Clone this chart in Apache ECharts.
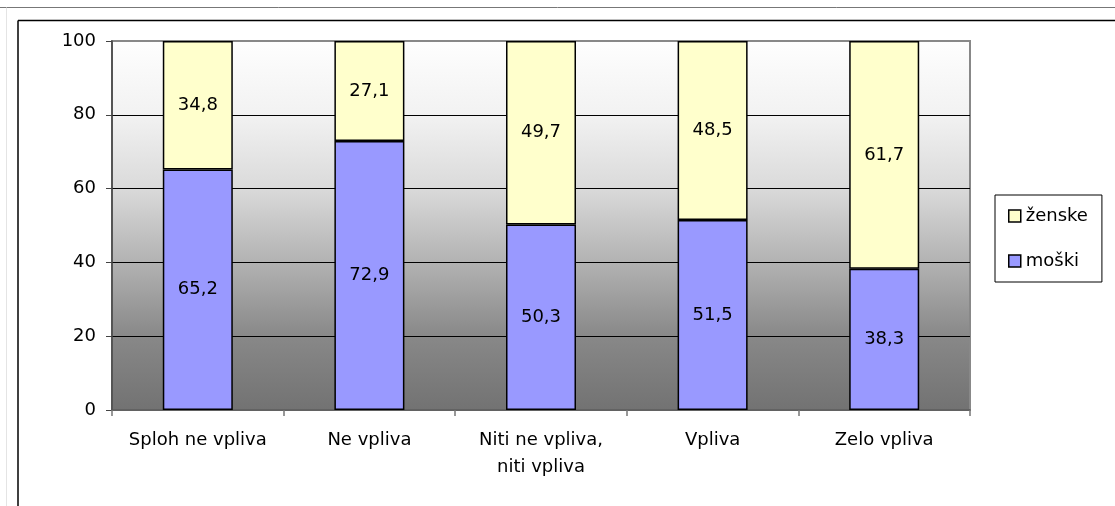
<!DOCTYPE html>
<html>
<head>
<meta charset="utf-8">
<script src="https://cdn.jsdelivr.net/npm/echarts@6/dist/echarts.min.js"></script>
<style>
  html, body { margin: 0; padding: 0; background: #fff; }
  #chart { width: 1115px; height: 506px; }
</style>
</head>
<body>
<div id="chart"></div>
<script>
const categories = ['Sploh ne vpliva', 'Ne vpliva', 'Niti ne vpliva,\nniti vpliva', 'Vpliva', 'Zelo vpliva']
const moski = [65.2, 72.9, 50.3, 51.5, 38.3]
const zenske = [34.8, 27.1, 49.7, 48.5, 61.7]
const yTicks = [0, 20, 40, 60, 80, 100]

const font = 'DejaVu Sans, Verdana, sans-serif'
const chart = echarts.init(document.getElementById('chart'), null, { renderer: 'canvas' })

const fmt = p => String(p.value).replace('.', ',')

chart.setOption({
  animation: false,
  textStyle: { fontFamily: font },
  graphic: [
    { type: 'line', shape: { x1: 0, y1: 7.5, x2: 1115, y2: 7.5 }, style: { stroke: '#777', lineWidth: 1 } },
    { type: 'line', shape: { x1: 6.5, y1: 7.5, x2: 6.5, y2: 506 }, style: { stroke: '#e4e4e4', lineWidth: 1 } },
    { type: 'line', shape: { x1: 18, y1: 20.5, x2: 1115, y2: 20.5 }, style: { stroke: '#000', lineWidth: 1.5 } },
    { type: 'line', shape: { x1: 18, y1: 20.5, x2: 18, y2: 506 }, style: { stroke: '#000', lineWidth: 1.5 } }
  ],
  grid: {
    left: 112,
    right: 145,
    top: 41,
    bottom: 96,
    show: true,
    borderColor: '#888',
    borderWidth: 2,
    backgroundColor: {
      type: 'linear', x: 0, y: 0, x2: 0, y2: 1,
      colorStops: [
        { offset: 0, color: '#fefefe' },
        { offset: 0.2, color: '#f2f2f2' },
        { offset: 0.4, color: '#dadada' },
        { offset: 0.6, color: '#b2b2b2' },
        { offset: 0.8, color: '#888888' },
        { offset: 1, color: '#727272' }
      ]
    }
  },
  legend: {
    data: ['ženske', 'moški'],
    orient: 'vertical',
    left: 995,
    top: 195,
    padding: [12, 14, 12, 13],
    itemGap: 27,
    itemWidth: 12,
    itemHeight: 12,
    borderColor: '#000',
    borderWidth: 1,
    icon: 'rect',
    itemStyle: { borderColor: '#000', borderWidth: 1.5 },
    textStyle: { fontSize: 18, color: '#000', fontFamily: font }
  },
  xAxis: {
    type: 'category',
    data: categories,
    axisLine: { lineStyle: { color: '#555', width: 1.5 } },
    axisTick: { show: true, length: 6, lineStyle: { color: '#777', width: 1.5 } },
    axisLabel: { fontSize: 18, color: '#000', margin: 17, lineHeight: 27, interval: 0 }
  },
  yAxis: {
    type: 'value',
    min: 0,
    max: 100,
    interval: 20,
    axisLine: { show: true, lineStyle: { color: '#444', width: 1.5 } },
    axisTick: { show: true, length: 6, lineStyle: { color: '#444' } },
    axisLabel: {
      fontSize: 18, color: '#000', margin: 16,
      formatter: v => yTicks.includes(v) ? String(v) : ''
    },
    splitLine: { show: true, showMinLine: false, showMaxLine: false, lineStyle: { color: '#000', width: 1 } }
  },
  series: [
    {
      name: 'moški',
      type: 'bar',
      stack: 'total',
      barWidth: 70,
      data: moski,
      itemStyle: { color: '#9999ff', borderColor: '#000', borderWidth: 1.5 },
      label: { show: true, position: 'inside', formatter: fmt, fontSize: 18, color: '#000', fontFamily: font }
    },
    {
      name: 'ženske',
      type: 'bar',
      stack: 'total',
      barWidth: 70,
      data: zenske,
      itemStyle: { color: '#ffffcc', borderColor: '#000', borderWidth: 1.5 },
      label: { show: true, position: 'inside', formatter: fmt, fontSize: 18, color: '#000', fontFamily: font }
    }
  ]
})
</script>
</body>
</html>
